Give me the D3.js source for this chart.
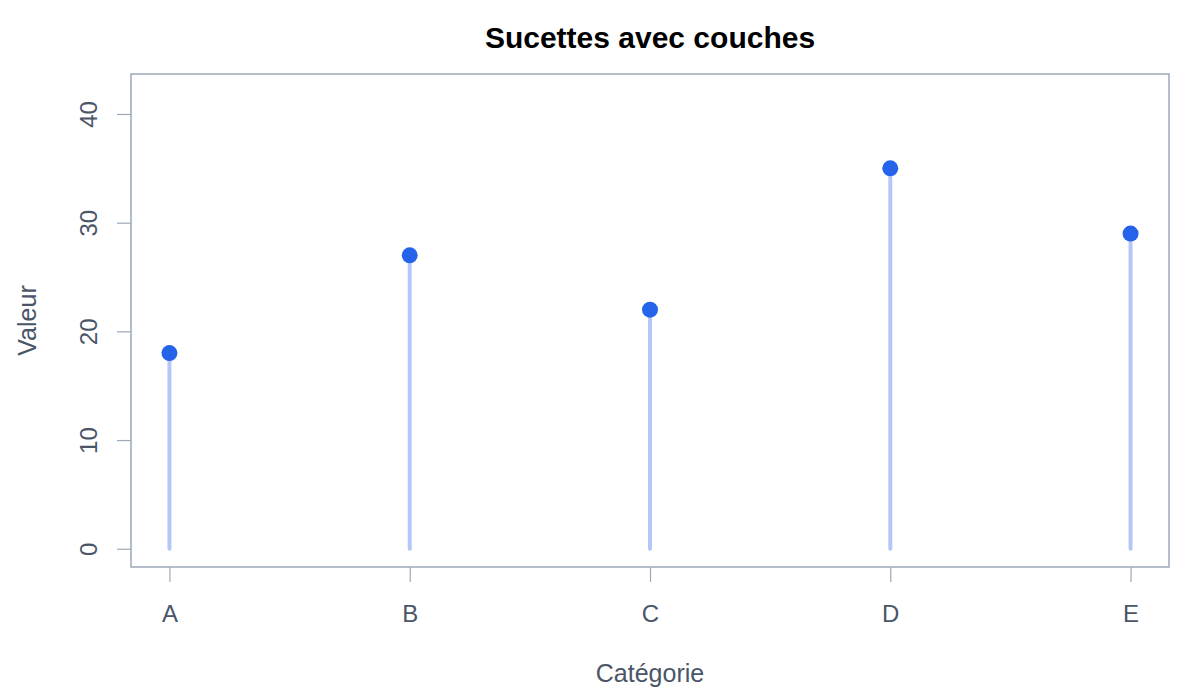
<!DOCTYPE html>
<html>
<head>
<meta charset="utf-8">
<script src="https://cdn.jsdelivr.net/npm/d3@7"></script>
<style>
  body { margin: 0; background: #fff; }
  text { font-family: "Liberation Sans", Arial, sans-serif; }
</style>
</head>
<body>
<div id="canvas"></div>
<script>
const categories = ["A", "B", "C", "D", "E"];
const values = [18, 27, 22, 35, 29];
const yTicks = [0, 10, 20, 30, 40];

const width = 1200;
const height = 700;
const margin = {top: 74, left: 131, bottom: 133, right: 31};
const iwidth = width - margin.left - margin.right;
const iheight = height - margin.top - margin.bottom;

const svg = d3.select("#canvas").append("svg")
  .attr("width", width)
  .attr("height", height);

const g = svg.append("g").attr("transform", `translate(${margin.left},${margin.top})`);

// R-style 4% padding around the ranges
const x = d3.scaleLinear().domain([0.84, 5.16]).range([0, iwidth]);
const y = d3.scaleLinear().domain([-1.68, 43.68]).range([iheight, 0]);

const axisColor = "#9ca8b8";
const textColor = "#4a5568";

// stems
g.selectAll("line.stem").data(values).enter().append("line")
  .attr("class", "stem")
  .attr("x1", (d, i) => x(i + 1))
  .attr("x2", (d, i) => x(i + 1))
  .attr("y1", y(0))
  .attr("y2", d => y(d))
  .attr("stroke", "#b4c7f7")
  .attr("stroke-width", 4)
  .attr("stroke-linecap", "round");

// heads
g.selectAll("circle").data(values).enter().append("circle")
  .attr("cx", (d, i) => x(i + 1))
  .attr("cy", d => y(d))
  .attr("r", 8)
  .attr("fill", "#2563eb");

// box
g.append("rect")
  .attr("width", iwidth)
  .attr("height", iheight)
  .attr("fill", "none")
  .attr("stroke", axisColor)
  .attr("stroke-width", 1.5);

const xAxis = g.append("g")
  .attr("transform", `translate(0,${iheight})`)
  .call(d3.axisBottom(x).tickValues([1, 2, 3, 4, 5]).tickFormat((d, i) => categories[i]).tickSize(15).tickPadding(23));
xAxis.select(".domain").remove();
xAxis.selectAll("line").attr("stroke", axisColor).attr("stroke-width", 1.2);
xAxis.selectAll("text").attr("fill", textColor).style("font-size", "24px")
  .style("font-family", "Liberation Sans, Arial, sans-serif");

const yAxis = g.append("g")
  .call(d3.axisLeft(y).tickValues(yTicks).tickSize(14).tickPadding(0));
yAxis.select(".domain").remove();
yAxis.selectAll("line").attr("stroke", axisColor).attr("stroke-width", 1.2);
yAxis.selectAll("text")
  .attr("fill", textColor)
  .style("font-size", "24px")
  .style("font-family", "Liberation Sans, Arial, sans-serif")
  .attr("text-anchor", "middle")
  .attr("x", null)
  .attr("dy", null)
  .attr("transform", "translate(-34,0) rotate(-90)");

svg.append("text")
  .attr("x", margin.left + iwidth / 2)
  .attr("y", 48)
  .attr("text-anchor", "middle")
  .attr("font-weight", "bold")
  .attr("font-size", 30)
  .attr("fill", "#000")
  .text("Sucettes avec couches");

svg.append("text")
  .attr("x", margin.left + iwidth / 2)
  .attr("y", 682)
  .attr("text-anchor", "middle")
  .attr("font-size", 25)
  .attr("fill", textColor)
  .text("Catégorie");

svg.append("text")
  .attr("transform", `translate(36,${margin.top + iheight / 2}) rotate(-90)`)
  .attr("text-anchor", "middle")
  .attr("font-size", 25)
  .attr("fill", textColor)
  .text("Valeur");
</script>
</body>
</html>
